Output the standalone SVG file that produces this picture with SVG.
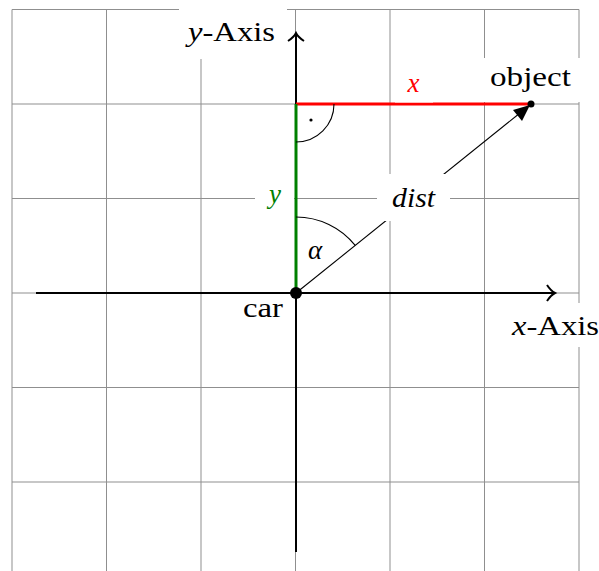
<svg xmlns="http://www.w3.org/2000/svg" width="599" height="571" viewBox="0 0 599 571">
<style>
.grid{stroke:#8f8f8f;stroke-width:1;fill:none}
.axis{stroke:#000;stroke-width:2;fill:none}
.thin{stroke:#000;stroke-width:1.1;fill:none}
.box{fill:#fff;stroke:none}
</style>
<rect width="599" height="571" fill="#fff"/>
<g id="grid" class="grid">
<path d="M12,9.5V576.5M106.5,9.5V576.5M201,9.5V576.5M295.5,9.5V576.5M390,9.5V576.5M484.5,9.5V576.5M579,9.5V576.5"/>
<path d="M12,9.5H579M12,104H579M12,198.5H579M12,293H579M12,387.5H579M12,482H579"/>
</g>
<g id="connectors">
<path class="axis" d="M36,293H555"/>
<path class="axis" d="M547,285Q551,291 555,293Q551,295 547,301"/>
<path class="axis" d="M296,552V33"/>
<path class="axis" d="M288,41Q294,37 296,33Q298,37 304,41"/>
<path d="M296,104H531" stroke="#ff0000" stroke-width="3" fill="none"/>
<path d="M296,104V293" stroke="#008000" stroke-width="3" fill="none"/>
<path class="thin" d="M296,293L520,113"/>
<path d="M530,105L513,110L522,121Z" fill="#000"/>
<path class="thin" d="M334,104A38,38 0 0 1 296,142"/>
<circle cx="311" cy="120" r="1.6" fill="#000"/>
<path class="thin" d="M296,217A76,76 0 0 1 355.2,245.4"/>
</g>
<g font-family="'Liberation Serif', 'Times New Roman', serif" font-size="27">
<g id="car">
<circle cx="296" cy="293" r="6" fill="#000"/>
<text x="263" y="317" text-anchor="middle" textLength="40" lengthAdjust="spacingAndGlyphs">car</text>
</g>
<g id="object">
<rect class="box" x="482" y="58" width="100" height="44"/>
<circle cx="531" cy="104" r="3.5" fill="#000"/>
<text x="530.5" y="86" text-anchor="middle" textLength="81" lengthAdjust="spacingAndGlyphs">object</text>
</g>
<g id="x-label">
<rect class="box" x="395" y="70" width="38" height="32.5"/>
<text x="413.5" y="92" text-anchor="middle" font-style="italic" fill="#ff0000">x</text>
</g>
<g id="y-label">
<rect class="box" x="255" y="180" width="39" height="36"/>
<text x="275" y="203" text-anchor="middle" font-style="italic" fill="#008000">y</text>
</g>
<g id="dist-label">
<rect class="box" x="377" y="174" width="73" height="47"/>
<text x="413.5" y="207" text-anchor="middle" font-style="italic" textLength="43" lengthAdjust="spacingAndGlyphs">dist</text>
</g>
<g id="alpha-label">
<text x="315" y="259" text-anchor="middle" font-style="italic">α</text>
</g>
<g id="y-axis-label">
<rect class="box" x="179" y="4" width="108" height="55"/>
<text x="188" y="41" textLength="87" lengthAdjust="spacingAndGlyphs"><tspan font-style="italic">y</tspan>-Axis</text>
</g>
<g id="x-axis-label">
<rect class="box" x="503" y="303" width="96" height="44"/>
<text x="512" y="335" textLength="87" lengthAdjust="spacingAndGlyphs"><tspan font-style="italic">x</tspan>-Axis</text>
</g>
</g>
</svg>
